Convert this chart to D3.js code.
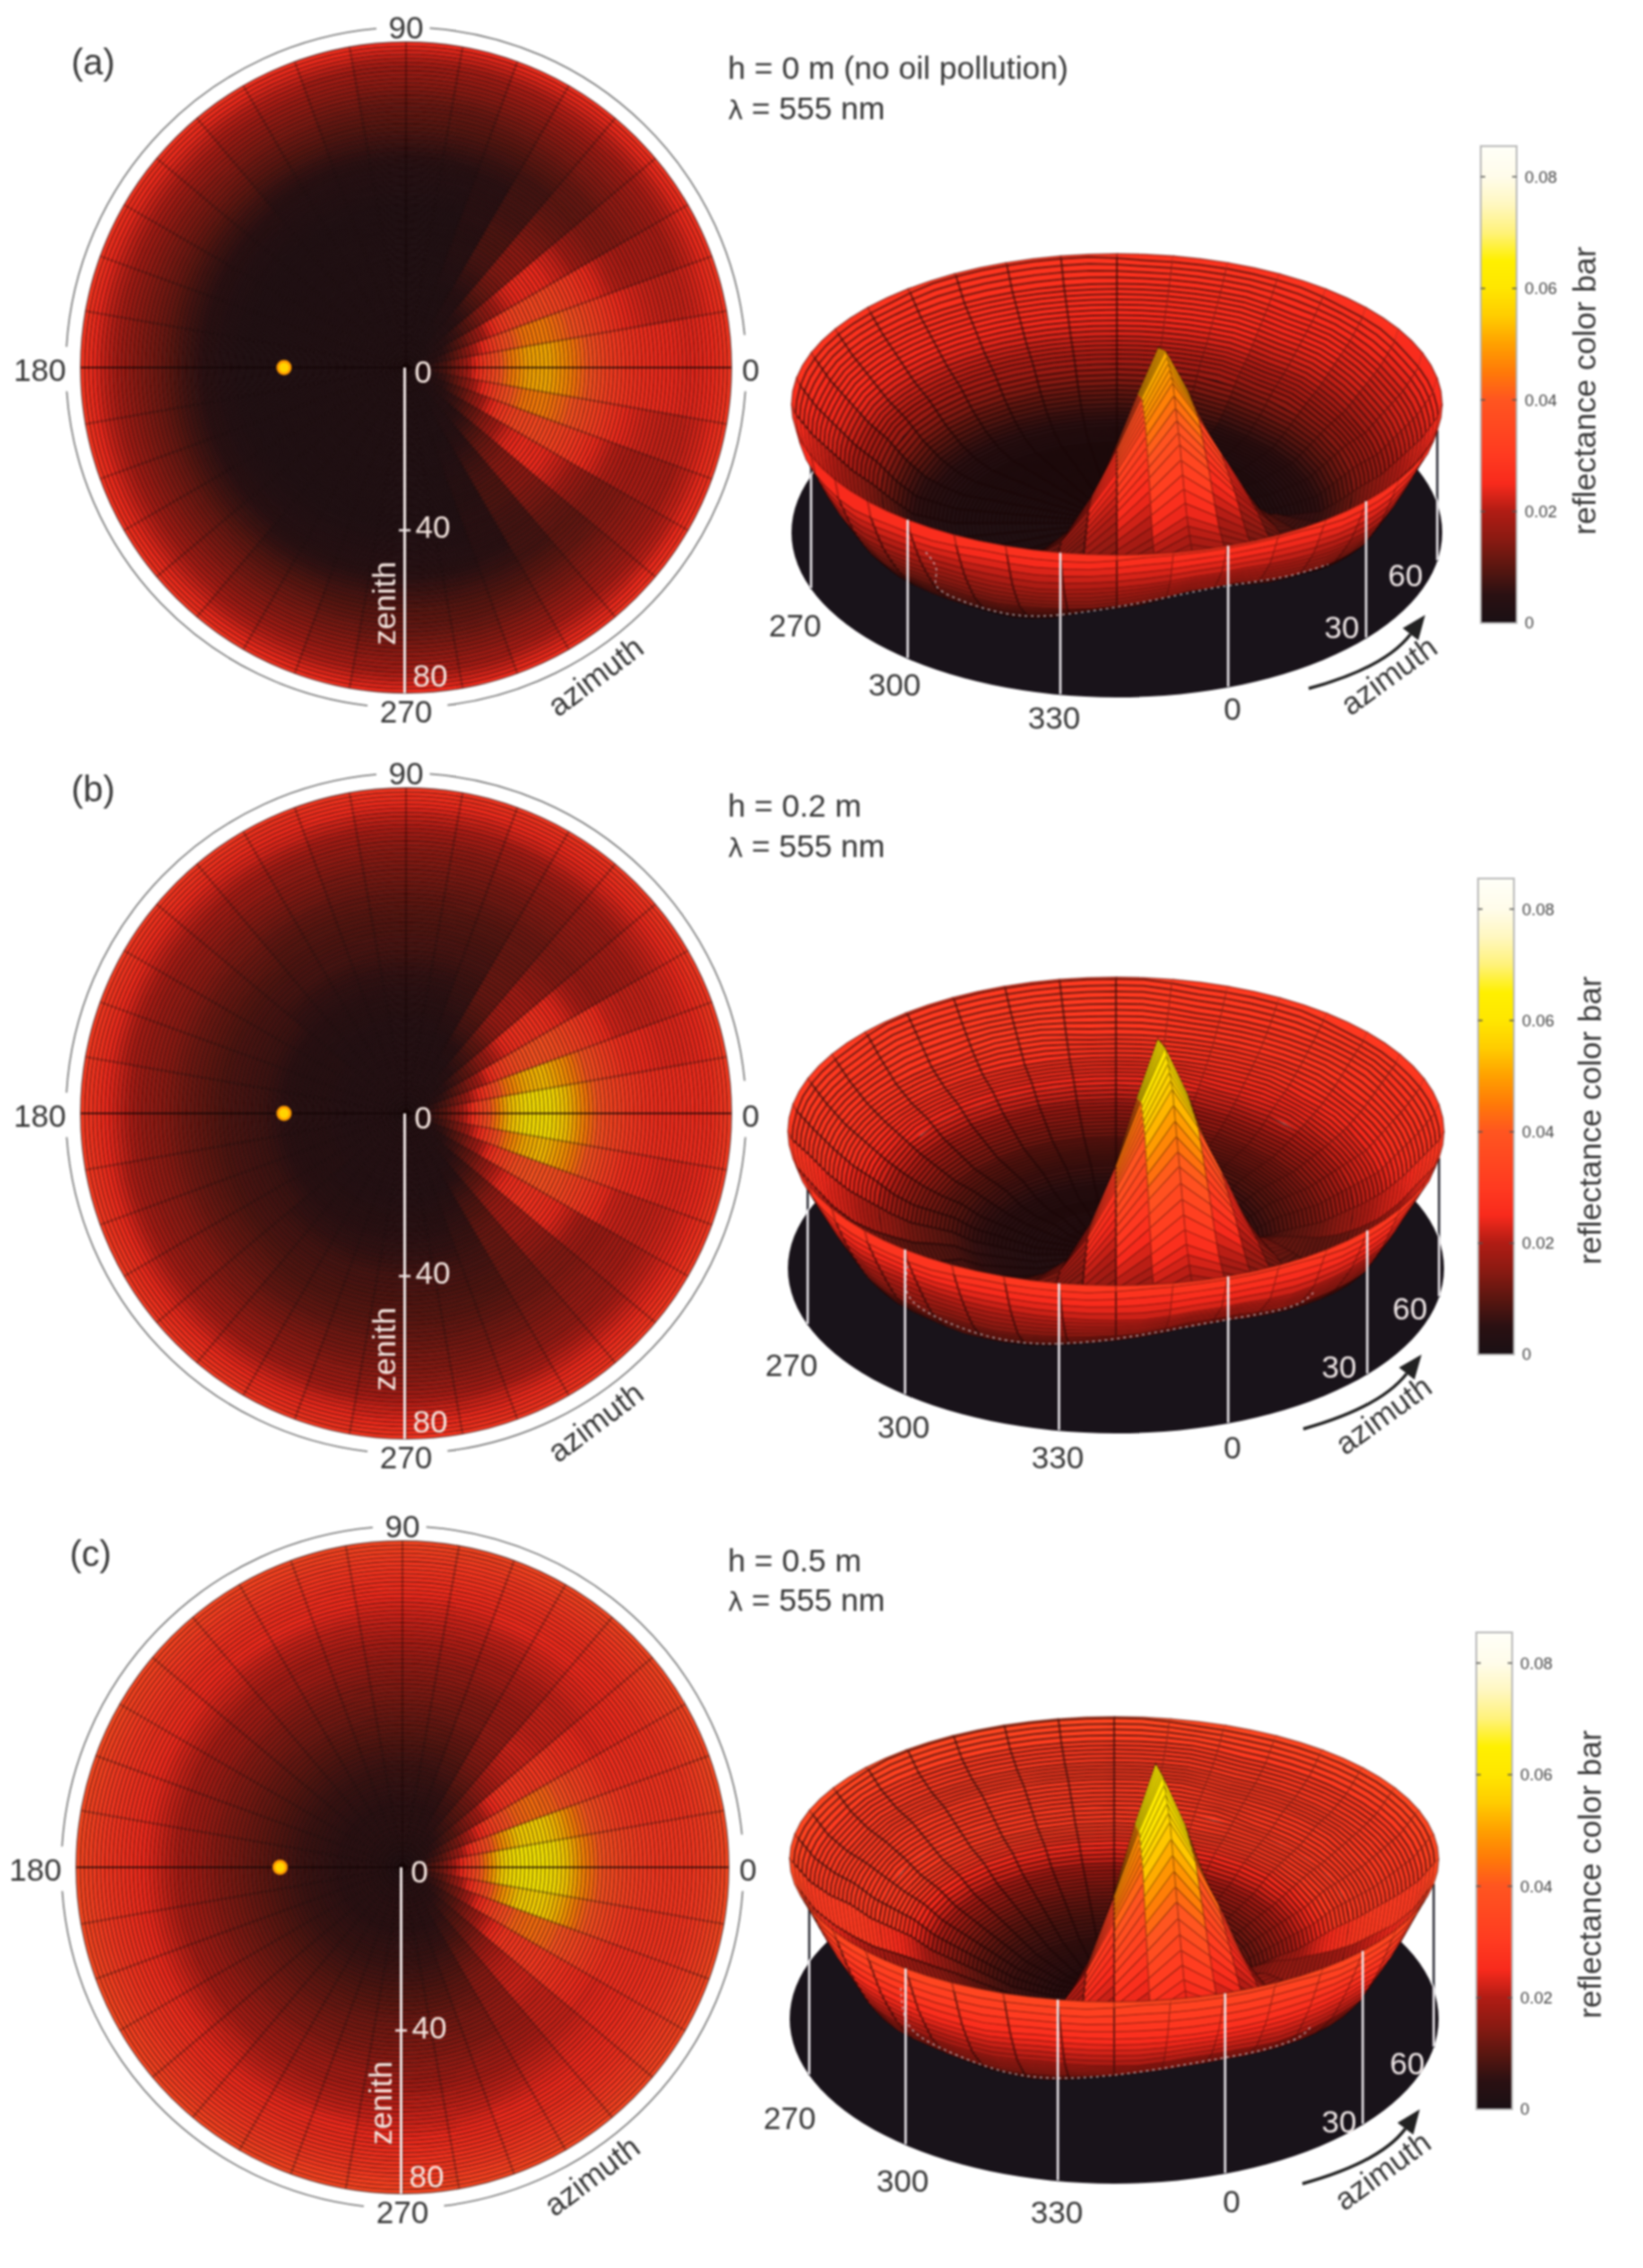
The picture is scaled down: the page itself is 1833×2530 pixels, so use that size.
<!DOCTYPE html>
<html><head><meta charset="utf-8">
<script src="https://cdn.jsdelivr.net/npm/d3@7/dist/d3.min.js"></script>
<style>html,body{margin:0;background:#fff}svg{display:block;filter:blur(.8px)}text{font-family:"Liberation Sans",Arial,sans-serif}</style>
</head><body><svg id="c" width="1833" height="2530"></svg>
<script>
// ---------- values ----------
const zenithRows=[0,5,10,15,20,25,30,35,40,45,50,55,60,65,70,75,80];
const azimuthCols=[5,15,25,35,45,55,65,75,85,95,105,115,125,135,145,155,165,175];
const reflectanceA=[ // x 0.001, rows = zenith, cols = azimuth wedge centre (mirrored about 0-180)
[2,2,2,2,2,2,2,2,2,2,2,2,2,2,2,2,2,2],
[4,3,3,2,2,2,2,2,2,2,2,2,2,2,2,2,2,2],
[9,7,5,4,3,2,2,2,2,2,2,2,2,2,2,2,2,2],
[19,15,11,7,4,3,2,2,2,2,2,2,2,2,2,2,2,2],
[32,26,19,12,7,4,2,2,2,2,2,2,2,2,2,2,2,2],
[44,38,29,18,11,6,3,2,2,2,2,2,2,2,2,2,2,2],
[51,45,35,24,14,8,4,2,2,2,2,2,2,2,2,2,2,2],
[52,46,36,26,16,9,4,2,2,2,2,2,2,2,2,2,2,2],
[47,42,34,25,16,9,5,2,2,2,2,2,2,2,2,2,2,2],
[40,36,30,22,14,8,5,3,3,3,3,3,3,3,3,3,3,3],
[32,30,25,18,12,8,5,4,4,4,4,4,4,5,5,5,5,5],
[28,25,21,15,11,8,7,7,7,7,7,7,7,8,8,8,8,8],
[26,23,20,15,12,11,10,10,10,10,10,11,11,12,12,12,12,12],
[25,22,20,17,15,14,13,12,12,12,13,14,14,15,15,15,15,15],
[24,22,20,19,18,18,17,16,16,16,17,18,18,19,19,19,19,19],
[25,24,23,22,22,22,21,20,20,20,21,22,22,23,23,23,23,23],
[29,29,28,28,28,27,27,26,26,26,27,27,28,28,28,28,29,29]];
const reflectanceB=[
[2,2,2,2,2,2,2,2,2,2,2,2,2,2,2,2,2,2],
[5,4,3,3,3,3,3,3,3,3,3,3,3,3,3,3,3,3],
[11,9,6,4,3,3,3,3,3,3,3,3,3,3,3,3,3,3],
[22,17,12,8,5,3,3,3,3,3,3,3,3,3,3,3,3,3],
[38,29,20,13,8,5,3,3,3,3,3,3,3,3,4,4,4,4],
[53,44,31,20,12,8,5,4,4,4,4,4,4,4,4,4,4,4],
[61,52,38,26,17,10,6,5,5,5,5,5,5,5,5,5,5,5],
[61,54,40,28,19,12,7,6,6,6,6,6,6,6,7,7,7,7],
[54,49,38,27,19,12,8,8,8,8,8,8,8,8,8,8,8,8],
[44,41,33,24,17,12,9,9,9,9,9,9,9,9,9,9,9,9],
[35,33,28,20,15,12,10,10,10,10,10,10,10,11,11,11,11,11],
[30,27,23,18,15,13,12,12,12,12,12,12,12,13,13,13,13,13],
[27,25,22,19,17,15,14,14,14,14,14,15,15,15,16,16,16,16],
[26,24,22,20,18,17,17,16,16,16,17,17,18,18,18,18,18,18],
[26,24,23,22,21,21,20,20,20,20,20,21,21,21,21,21,21,22],
[26,25,25,25,25,25,25,24,24,24,25,25,25,25,25,26,26,26],
[31,31,30,30,30,29,29,29,29,29,29,29,30,30,30,31,31,31]];
const reflectanceC=[
[2,2,2,2,2,2,2,2,2,2,2,2,2,2,2,2,2,2],
[6,5,4,4,4,4,4,4,4,4,4,4,4,4,4,4,4,4],
[13,10,8,6,5,5,5,5,5,5,5,5,5,5,5,5,5,5],
[26,20,14,10,8,6,5,5,5,5,5,5,5,5,5,5,5,5],
[43,34,24,16,11,8,6,6,6,6,6,6,6,6,6,6,6,6],
[58,48,34,23,15,11,8,7,7,7,7,7,7,7,7,7,7,7],
[65,57,42,29,20,14,10,9,9,9,9,9,9,9,9,9,9,9],
[64,58,44,30,22,16,12,11,11,11,11,11,11,11,11,11,11,11],
[56,52,42,30,23,17,14,13,13,13,13,13,13,13,13,13,13,13],
[46,43,36,28,22,18,15,15,15,15,15,15,15,15,15,15,15,15],
[38,36,31,26,22,19,18,17,17,17,18,18,18,18,18,18,18,18],
[33,30,27,24,22,21,20,20,20,20,20,20,20,20,20,20,20,20],
[30,28,27,25,24,23,22,22,22,22,22,22,22,23,23,23,23,23],
[29,28,27,26,25,25,25,24,24,24,25,25,25,25,26,26,26,26],
[29,28,28,28,27,27,27,27,27,27,27,27,27,27,28,28,28,28],
[31,31,31,31,30,30,30,30,30,30,30,30,30,30,31,31,31,31],
[36,36,35,35,35,35,35,35,35,35,35,35,35,35,35,36,36,36]];
// the 3D view lowers the near bowl wall below the read reflectance, lights its far side
// and shows the glint peak narrower than the flat map does
const surfaceHeightGain=[1,1,1,1,1,1,1,1,1,.9,.72,.56,.52,.56,.68,.84,1];
const surfaceShadeGain=[1,1,1,1,1,1,1,1.1,1.25,1.4,1.5,1.6,1.6,1.5,1.35,1.15,1];
const peakAzimuths=[0,5,10,15,20,30,40,50,60];
const peakNarrowing=[1,1,.87,.83,.78,.72,.68,.78,1];
const colorStops=[0,.005,.01,.015,.02,.025,.03,.04,.045,.05,.055,.06,.065,.07,.075,.08,.0855];
const colorValues=["#1a1014","#2a1012","#5a1610","#8a1a12","#b01c14","#f82a1c","#ff3a20","#ff5520","#ff7a08","#ffa000","#ffcc00","#ffe600","#fff000","#fff27a","#fff7c0","#fffcea","#fffff8"];
const colorBarTicks=[0,.02,.04,.06,.08];
const panelNames=["(a)","(b)","(c)"];
const heightNotes=["h = 0 m (no oil pollution)","h = 0.2 m","h = 0.5 m"];
const wavelengthNote="= 555 nm";
const compassTicks=[90,180,0,270];
const zenithTicks=[0,40,80];
const surfaceTicks=[270,300,330,0,30,60];
const sunZenith=30;
// ---------- layout ----------
const panels=[
{table:reflectanceA,pc:[453,410],pr:363,sx:1246,dy:594,srx:363,dry:184,rry:168,rimLift:143,
 name:[104,69],note:[812,88,133],
 bar:[1652,1692,695,163],barLabel:[1768,436],
 labels:{270:[887,697],300:[998,763],330:[1176,800],0:[1375,790],30:[1497,699],60:[1568,641]},
 az:[1549,753],arrow:[1460,768,1545,745,1590,686]},
{table:reflectanceB,pc:[453,1242],pr:363,sx:1245,dy:1415,srx:366,dry:184,rry:172,rimLift:153,
 name:[104,880],note:[812,911,956],
 bar:[1649,1689,1511,980],barLabel:[1774,1250],
 labels:{270:[883,1522],300:[1008,1591],330:[1180,1625],0:[1375,1614],30:[1494,1524],60:[1573,1459]},
 az:[1543,1578],arrow:[1454,1594,1540,1570,1586,1511]},
{table:reflectanceC,pc:[449,2083],pr:364,sx:1243,dy:2252,srx:362,dry:184,rry:159,rimLift:178,
 name:[101,1733],note:[812,1753,1797],
 bar:[1647,1687,2353,1821],barLabel:[1774,2091],
 labels:{270:[881,2362],300:[1007,2432],330:[1179,2467],0:[1374,2455],30:[1494,2366],60:[1570,2301]},
 az:[1542,2421],arrow:[1453,2436,1540,2412,1584,2353]}];
const H=5100, view=20, rad=Math.PI/180, textDark="#383838", textLight="#f5e6e0";
const svg=d3.select("#c");
const cmap=d3.scaleLinear().domain(colorStops).range(colorValues).clamp(true);
const narrowAz=d3.scaleLinear().domain(peakAzimuths).range(peakNarrowing).clamp(true);
const narrowZen=d3.scaleLinear().domain([50,65]).range([1,0]).clamp(true);
function narrowing(zen,az){
  const a=Math.abs(((az+180)%360+360)%360-180);
  return 1-(1-narrowAz(a))*narrowZen(zen);
}
function rowInterp(arr,zen){
  const z=Math.max(0,Math.min(80,zen))/5, i=Math.min(15,Math.floor(z));
  return d3.interpolateNumber(arr[i],arr[i+1])(z-i);
}
function rowValue(tb,zen,col){
  const z=Math.max(0,Math.min(80,zen))/5, i=Math.min(15,Math.floor(z));
  return d3.interpolateNumber(tb[i][col],tb[i+1][col])(z-i)/1000;
}
const wedgeCol=w=>{w=((w%36)+36)%36;return w<18?w:35-w;};
function vertexValue(tb,zen,az){
  const w=az/10;
  if(w%1!==0) return rowValue(tb,zen,wedgeCol(Math.floor(w)));
  return (rowValue(tb,zen,wedgeCol(w))+rowValue(tb,zen,wedgeCol(w-1)))/2;
}
function txt(g,s,x,y,size,fill,rot,anchor){
  const t=g.append("text").attr("x",x).attr("y",y).attr("font-size",size).attr("fill",fill)
    .attr("text-anchor",anchor||"middle").attr("dominant-baseline","central").text(s);
  if(rot!=null)t.attr("transform",`rotate(${rot} ${x} ${y})`);
  return t;
}
const farSide=d3.scaleLinear().domain([.35,-.15]).range([0,1]).clamp(true);
const nearSide=d3.scaleLinear().domain([.1,.5]).range([0,1]).clamp(true);
panels.forEach((P,pi)=>{
  const g=svg.append("g");
  const tb=P.table;
  // ---------- polar map ----------
  const [cx,cy]=P.pc;
  const rs=d3.scaleLinear().domain([0,80]).range([0,P.pr]);
  const polar=g.append("g").attr("transform",`translate(${cx},${cy})`);
  const arc=d3.arc();
  const cells=[];
  for(let w=0;w<36;w++)for(let z=0;z<80;z++)cells.push({w,z,v:rowValue(tb,z+.5,wedgeCol(w))});
  polar.selectAll("path.c").data(cells).join("path")
    .attr("d",d=>arc({innerRadius:rs(d.z),outerRadius:rs(d.z+1),startAngle:(90-(d.w+1)*10)*rad,endAngle:(90-d.w*10)*rad}))
    .attr("fill",d=>cmap(d.v)).attr("stroke",d=>cmap(d.v)).attr("stroke-width",.4);
  polar.selectAll("circle.r").data(d3.range(1,81)).join("circle")
    .attr("r",d=>rs(d)).attr("fill","none").attr("stroke","#120404").attr("stroke-opacity",.48).attr("stroke-width",1.8);
  polar.selectAll("line.s").data(d3.range(0,360,10)).join("line")
    .attr("x2",d=>rs(80)*Math.cos(d*rad)).attr("y2",d=>-rs(80)*Math.sin(d*rad))
    .attr("stroke","#120404").attr("stroke-opacity",d=>d%180===0?.7:.33).attr("stroke-width",2);
  // outer compass ring with gaps at its labels
  const R=P.pr+16.5;
  const ringArcs=[[5.5,86],[95,176.5],[184,263.5],[277,356]];
  ringArcs.forEach(([a,b])=>{
    polar.append("path").attr("d",arc({innerRadius:R,outerRadius:R,startAngle:(90-b)*rad,endAngle:(90-a)*rad}))
      .attr("fill","none").attr("stroke","#808080").attr("stroke-width",1.8);
  });
  compassTicks.forEach(t=>{
    const x=(R+(t===0||t===180?7:-.5)+(t===180?14:0)+(t===0?-2:0))*Math.cos(t*rad), y=-(R+(t===270?4:0))*Math.sin(t*rad);
    txt(polar,t,t===180?x-8:x,y+(t===0||t===180?2:0),35,textDark);
  });
  // zenith axis
  polar.append("line").attr("y2",rs(80)).attr("x1",-1.5).attr("x2",-1.5).attr("stroke","#f3e9e8").attr("stroke-width",3);
  polar.append("line").attr("x1",-8).attr("x2",5).attr("y1",rs(40)).attr("y2",rs(40)).attr("stroke","#f3e9e8").attr("stroke-width",2.5);
  zenithTicks.forEach(t=>{
    txt(polar,t,t===0?19:(t===40?30:27),t===0?4:rs(t)+(t===40?-4:-20),35,textLight);
  });
  txt(polar,"zenith",-25,263,35,textLight,-90);
  txt(polar,"azimuth",211,344,35,textDark,-37);
  // sun
  const sunG=polar.append("g").attr("transform",`translate(${-rs(sunZenith)},0)`);
  sunG.append("circle").attr("r",8.5).attr("fill","#ff9a00");
  sunG.append("circle").attr("r",5.5).attr("fill","#ffd400");
  txt(g,panelNames[pi],P.name[0],P.name[1],40,textDark);
  // notes
  g.append("text").attr("x",P.note[0]).attr("y",P.note[1]).attr("font-size",35.5).attr("fill",textDark).text(heightNotes[pi]);
  const lam=g.append("text").attr("x",P.note[0]).attr("y",P.note[2]).attr("fill",textDark);
  lam.append("tspan").attr("font-size",29).attr("font-family","DejaVu Sans").text("λ ");
  lam.append("tspan").attr("font-size",35.5).text(wavelengthNote);

  // ---------- 3D surface ----------
  const kd=P.dry/P.srx, rimZ=P.rimLift/H, kr=P.rry/P.srx;
  const rho=d3.scaleLinear().domain([0,80]).range([0,P.srx]);
  const proj=(zen,az,z)=>{
    const r=rho(zen), a=(az+view)*rad, k=kd+(kr-kd)*z/rimZ;
    return [P.sx+r*Math.sin(a), P.dy+r*k*Math.cos(a)-z*H];
  };
  const nearGain=(zen,az)=>(1+(rowInterp(surfaceHeightGain,zen)-1)*nearSide(Math.cos((az+view)*rad)))*narrowing(zen,az);
  const heightAt=(zen,az)=> zen>=80 ? rimZ : vertexValue(tb,zen,az)*nearGain(zen,az);
  const pt=(zen,az)=>proj(zen,az,heightAt(zen,az));
  const s3=g.append("g");
  s3.append("ellipse").attr("cx",P.sx).attr("cy",P.dy).attr("rx",P.srx).attr("ry",P.dry).attr("fill","#19131a");
  const clipId="disc"+pi;
  svg.append("clipPath").attr("id",clipId).append("ellipse").attr("cx",P.sx).attr("cy",P.dy).attr("rx",P.srx+2).attr("ry",P.dry+2);
  const rimPt=t=>proj(80,t,rimZ), discPt=t=>{const a=(t+view)*rad;return [P.sx+P.srx*Math.sin(a),P.dy+P.dry*Math.cos(a)];};
  const tickDeg=t=>t>180?t-360:t;
  s3.selectAll("line.d").data(surfaceTicks).join("line")
    .attr("x1",t=>rimPt(tickDeg(t))[0]).attr("x2",t=>rimPt(tickDeg(t))[0])
    .attr("y1",t=>rimPt(tickDeg(t))[1]).attr("y2",t=>discPt(tickDeg(t))[1])
    .attr("stroke","#2a2a33").attr("stroke-width",2.5);
  const quads=[];
  for(let w=0;w<36;w++)for(let z=0;z<80;z++){
    const a0=w*10,a1=(w+1)*10,am=a0+5;
    const smooth=z>=58;
    const outer=smooth?[pt(z,a0),pt(z,am),pt(z,a1)]:[pt(z,a0),pt(z,a1)];
    const inner=smooth?[pt(z+1,a1),pt(z+1,am),pt(z+1,a0)]:[pt(z+1,a1),pt(z+1,a0)];
    const v=rowValue(tb,z+.5,wedgeCol(w))*nearGain(z+.5,am);
    const c=Math.cos((am+view)*rad);
    const gain=1+(rowInterp(surfaceShadeGain,z+.5)-1)*farSide(c);
    quads.push({z,outer,inner,v:Math.min(v*gain,Math.max(v,.03)),depth:rho(z+.5)*c});
  }
  quads.sort((a,b)=>a.depth-b.depth);
  const sel=s3.selectAll("g.q").data(quads).join("g");
  const quadLine=d3.line();
  sel.append("path").attr("d",d=>quadLine(d.outer.concat(d.inner))+"Z").attr("fill",d=>cmap(d.v)).attr("stroke",d=>cmap(d.v)).attr("stroke-width",.5);
  sel.append("path").attr("d",d=>quadLine(d.inner.concat([d.outer[0]]))).attr("fill","none")
    .attr("stroke","#1a0505").attr("stroke-opacity",d=>d.z===79?.3:.62).attr("stroke-width",2);
  // dotted silhouette under the bowl
  const sil=d3.range(-90,50,10).map(a=>{
    let best=null;
    d3.range(44,81,2).forEach(z=>{const q=pt(z,a);if(!best||q[1]>best[1])best=q;});
    return best;
  });
  s3.append("path").attr("d",d3.line().curve(d3.curveBasis)(sil)).attr("fill","none")
    .attr("stroke","#d8d4dc").attr("stroke-opacity",.8).attr("stroke-width",1.5).attr("stroke-dasharray","3 4");
  // white tick lines
  s3.append("g").attr("clip-path",`url(#${clipId})`).selectAll("line").data(surfaceTicks).join("line")
    .attr("x1",t=>rimPt(tickDeg(t))[0]).attr("x2",t=>rimPt(tickDeg(t))[0])
    .attr("y1",t=>rimPt(tickDeg(t))[1]).attr("y2",t=>discPt(tickDeg(t))[1]-1)
    .attr("stroke","#f2eef2").attr("stroke-width",2.5);
  surfaceTicks.forEach(t=>{
    const l=P.labels[t];
    txt(g,t,l[0],l[1],35,(t===30||t===60)?"#eee6e6":textDark);
  });
  txt(g,"azimuth",P.az[0],P.az[1],35,textDark,-36);
  // arrow
  const [x0,y0,xc,yc,x1,y1]=P.arrow;
  const ang=Math.atan2(y1-yc,x1-xc), hl=27,hw=11;
  const bx=x1-hl*Math.cos(ang),by=y1-hl*Math.sin(ang);
  const ap=d3.path();ap.moveTo(x0,y0);ap.quadraticCurveTo(xc,yc,bx,by);
  g.append("path").attr("d",ap.toString()).attr("fill","none").attr("stroke","#222").attr("stroke-width",3.5);
  g.append("path").attr("d",d3.line()([[x1,y1],[bx-hw*Math.sin(ang),by+hw*Math.cos(ang)],[bx+hw*Math.sin(ang),by-hw*Math.cos(ang)]])+"Z").attr("fill","#222");

  // ---------- colour bar ----------
  const [bx0,bx1,by0,by1]=P.bar;
  const ys=d3.scaleLinear().domain([0,colorStops[colorStops.length-1]]).range([by0,by1]);
  const steps=d3.range(by1,by0,1);
  g.selectAll(null).data(steps).join("rect").attr("x",bx0).attr("width",bx1-bx0).attr("y",d=>d).attr("height",1.4)
    .attr("fill",d=>cmap(ys.invert(d+.5)));
  g.append("rect").attr("x",bx0).attr("y",by1).attr("width",bx1-bx0).attr("height",by0-by1).attr("fill","none").attr("stroke","#b8b8b8").attr("stroke-width",2);
  const axis=d3.axisRight(ys).tickValues(colorBarTicks).tickSize(0).tickPadding(9).tickFormat(d=>d===0?"0":d3.format(".2f")(d));
  const ag=g.append("g").attr("transform",`translate(${bx1},0)`).call(axis);
  ag.select(".domain").remove();
  ag.selectAll("text").attr("font-size",18.5).attr("fill","#444").attr("font-family","Liberation Sans");
  colorBarTicks.slice(1).forEach(t=>{
    [[bx0,bx0+5],[bx1-5,bx1]].forEach(([a,b])=>g.append("line").attr("x1",a).attr("x2",b).attr("y1",ys(t)).attr("y2",ys(t)).attr("stroke","#555").attr("stroke-width",1.5));
  });
  txt(g,"reflectance color bar",P.barLabel[0],P.barLabel[1],35.5,textDark,-90);
});
</script></body></html>
